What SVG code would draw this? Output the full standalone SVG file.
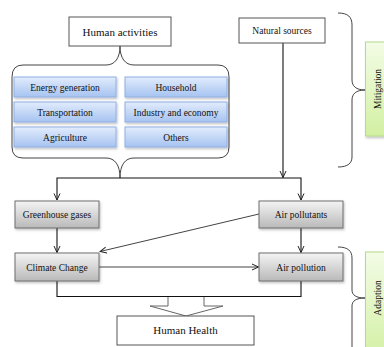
<svg xmlns="http://www.w3.org/2000/svg" width="384" height="347" viewBox="0 0 384 347">
<defs>
<linearGradient id="gBlue" x1="0" y1="0" x2="0" y2="1"><stop offset="0" stop-color="#e2ecfc"/><stop offset="1" stop-color="#a6c3f1"/></linearGradient>
<linearGradient id="gGray" x1="0" y1="0" x2="0" y2="1"><stop offset="0" stop-color="#f4f4f4"/><stop offset="1" stop-color="#b9b9b9"/></linearGradient>
<linearGradient id="gGreen" x1="0" y1="0" x2="0" y2="1"><stop offset="0" stop-color="#f3fce6"/><stop offset="1" stop-color="#d2f0a2"/></linearGradient>
<filter id="sh" x="-10%" y="-20%" width="120%" height="150%"><feDropShadow dx="1" dy="1.5" stdDeviation="0.8" flood-color="#000" flood-opacity="0.25"/></filter>
<marker id="arr" viewBox="0 0 8 8" refX="7.5" refY="4" markerWidth="8" markerHeight="8" orient="auto" markerUnits="userSpaceOnUse"><path d="M1,1 L7.5,4 L1,7" fill="none" stroke="#222" stroke-width="1"/></marker>
</defs>
<style>
text{font-family:"Liberation Serif","Times New Roman",serif;fill:#111;text-anchor:middle}
.lbl{font-size:9.5px}
.big{font-size:11px}
.plain{fill:#fff;stroke:#555;stroke-width:1}
.blue{fill:url(#gBlue);stroke:#8fb0e3;stroke-width:1;filter:url(#sh)}
.gray{fill:url(#gGray);stroke:#6f6f6f;stroke-width:1;filter:url(#sh)}
.green{fill:url(#gGreen);stroke:#b6d98c;stroke-width:1;filter:url(#sh)}
.brace{fill:none;stroke:#444;stroke-width:1}
.line{fill:none;stroke:#111;stroke-width:1.1}
.gline{fill:none;stroke:#444;stroke-width:1}
</style>

<g id="connectors">
<path class="brace" d="M120 46 C120 58 115 65 106 65 L23 65 Q12 65 12 77 L12 147 Q12 158 23 158 L106 158 C115 158 120 165 120 178 C120 165 125 158 134 158 L218 158 Q229 158 229 147 L229 77 Q229 65 218 65 L134 65 C125 65 120 58 120 46"/>
<path class="line" d="M283 43 L283 177.5" marker-end="url(#arr)"/>
<path class="line" d="M120 178 L57 178 L57 200" marker-end="url(#arr)"/>
<path class="line" d="M120 178 L301 178 L301 200" marker-end="url(#arr)"/>
<path class="line" d="M57 228 L57 252.5" marker-end="url(#arr)"/>
<path class="line" d="M301 228 L301 252.5" marker-end="url(#arr)"/>
<path class="gline" d="M259 214 L100 251.5" marker-end="url(#arr)"/>
<path class="gline" d="M99 267 L258.5 267" marker-end="url(#arr)"/>
<path class="line" d="M57 281 L57 296.5 L301 296.5 L301 281"/>
<path d="M168 297 L168 306 L150 306 L186 316 L223 306 L204 306 L204 297" fill="#fff" stroke="#666" stroke-width="1"/>
<path class="brace" d="M338 13 C348 13 352 17 352 25 L352 80 C352 86 356 90 365 90 C356 90 352 94 352 100 L352 157 C352 163 348 167 338 167"/>
<path class="brace" d="M338 247 C348 247 352 251 352 258 L352 290 C352 295 356 298 365 298 C356 298 352 301 352 306 L352 347"/>
</g>

<g id="human-activities"><rect class="plain" x="69" y="17" width="102" height="29"/><text class="big" x="120" y="35.5">Human activities</text></g>
<g id="natural-sources"><rect class="plain" x="239" y="18" width="86" height="25"/><text class="lbl" x="282" y="34">Natural sources</text></g>

<g id="energy-generation"><rect class="blue" x="14" y="77" width="102" height="20"/><text class="lbl" x="65" y="90.5">Energy generation</text></g>
<g id="household"><rect class="blue" x="125" y="77" width="102" height="20"/><text class="lbl" x="176" y="90.5">Household</text></g>
<g id="transportation"><rect class="blue" x="14" y="102" width="102" height="20"/><text class="lbl" x="65" y="115.5">Transportation</text></g>
<g id="industry-economy"><rect class="blue" x="125" y="102" width="102" height="20"/><text class="lbl" x="176" y="115.5">Industry and economy</text></g>
<g id="agriculture"><rect class="blue" x="14" y="127" width="102" height="20"/><text class="lbl" x="65" y="140.5">Agriculture</text></g>
<g id="others"><rect class="blue" x="125" y="127" width="102" height="20"/><text class="lbl" x="176" y="140.5">Others</text></g>

<g id="greenhouse-gases"><rect class="gray" x="15" y="201" width="84" height="27"/><text class="lbl" x="57" y="218">Greenhouse gases</text></g>
<g id="air-pollutants"><rect class="gray" x="259" y="201" width="84" height="27"/><text class="lbl" x="301" y="218">Air pollutants</text></g>
<g id="climate-change"><rect class="gray" x="15" y="253" width="84" height="28"/><text class="lbl" x="57" y="270.5">Climate Change</text></g>
<g id="air-pollution"><rect class="gray" x="259" y="253" width="84" height="28"/><text class="lbl" x="301" y="270.5">Air pollution</text></g>

<g id="human-health"><rect class="plain" x="117" y="316" width="137" height="29"/><text class="big" x="185.5" y="334">Human Health</text></g>

<g id="mitigation"><rect class="green" x="365.5" y="42" width="30" height="94"/><text class="lbl" transform="translate(381 89) rotate(-90)" x="0" y="0">Mitigation</text></g>
<g id="adaption"><rect class="green" x="365.5" y="252" width="30" height="110"/><text class="lbl" transform="translate(381 298) rotate(-90)" x="0" y="0">Adaption</text></g>
</svg>
